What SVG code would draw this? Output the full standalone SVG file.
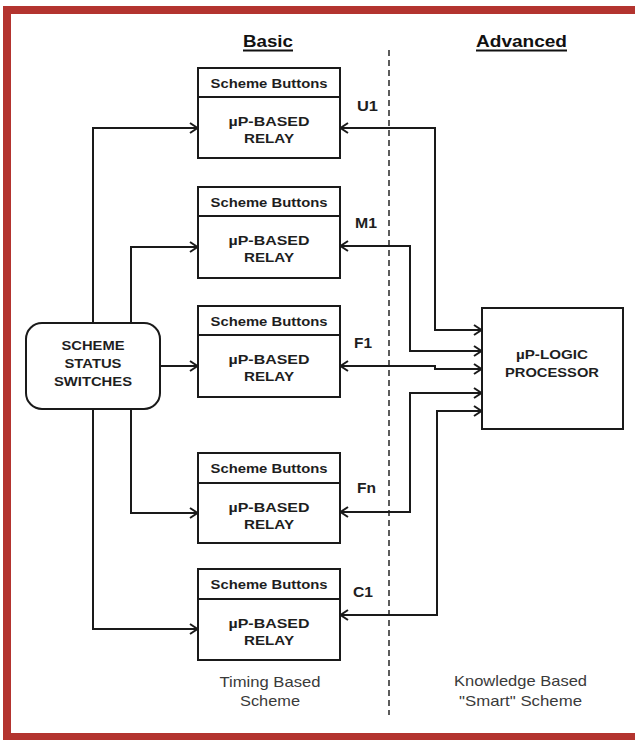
<svg xmlns="http://www.w3.org/2000/svg" width="635" height="740" viewBox="0 0 635 740">
<style>
.box{fill:#fff;stroke:#1a1a1a;stroke-width:2}
.ln{fill:none;stroke:#1a1a1a;stroke-width:2}
.b{font-family:"Liberation Sans",Arial,sans-serif;font-weight:bold;fill:#1e1e1e;font-size:13px}
.hd{font-family:"Liberation Sans",Arial,sans-serif;font-weight:bold;fill:#111;font-size:17px}
.lb{font-family:"Liberation Sans",Arial,sans-serif;font-weight:bold;fill:#1e1e1e;font-size:15px}
.n{font-family:"Liberation Sans",Arial,sans-serif;fill:#3a3a3a;font-size:15px}
</style>
<defs>
<marker id="ah" viewBox="-10 -7 12 14" refX="0" refY="0" markerWidth="12" markerHeight="14" markerUnits="userSpaceOnUse" orient="auto-start-reverse">
<path d="M-8,-5 L-0.5,0 L-8,5" fill="none" stroke="#1a1a1a" stroke-width="2"/>
</marker>
</defs>
<rect x="0" y="0" width="635" height="740" fill="#fff"/>
<rect id="frame" x="7" y="10" width="640" height="727" fill="none" stroke="#b3342f" stroke-width="8"/>

<g id="headings">
<text class="hd" x="243" y="47" textLength="50" lengthAdjust="spacingAndGlyphs">Basic</text>
<line x1="243" y1="50.5" x2="293" y2="50.5" stroke="#111" stroke-width="2"/>
<text class="hd" x="476" y="47" textLength="91" lengthAdjust="spacingAndGlyphs">Advanced</text>
<line x1="476" y1="50.5" x2="567" y2="50.5" stroke="#111" stroke-width="2"/>
</g>

<line id="divider" x1="389" y1="50" x2="389" y2="715" stroke="#333" stroke-width="1.6" stroke-dasharray="6,4"/>

<g id="connectors" class="ln">
<path d="M93,323 V128 H198" marker-end="url(#ah)"/>
<path d="M131,323 V247 H198" marker-end="url(#ah)"/>
<path d="M160,366 H198" marker-end="url(#ah)"/>
<path d="M131,409 V513 H198" marker-end="url(#ah)"/>
<path d="M93,409 V629 H198" marker-end="url(#ah)"/>
<path d="M340,128 H435 V330 H482" marker-start="url(#ah)" marker-end="url(#ah)"/>
<path d="M340,246 H410 V351 H482" marker-start="url(#ah)" marker-end="url(#ah)"/>
<path d="M340,366 H435 V369 H482" marker-start="url(#ah)" marker-end="url(#ah)"/>
<path d="M340,512 H410 V393 H482" marker-start="url(#ah)" marker-end="url(#ah)"/>
<path d="M340,615 H437 V411 H482" marker-start="url(#ah)" marker-end="url(#ah)"/>
</g>

<g id="switches">
<rect class="box" x="26" y="323" width="134" height="86" rx="16"/>
<text class="b" x="93" y="350" text-anchor="middle" font-size="13.5" textLength="63" lengthAdjust="spacingAndGlyphs">SCHEME</text>
<text class="b" x="93" y="368" text-anchor="middle" font-size="13.5" textLength="57" lengthAdjust="spacingAndGlyphs">STATUS</text>
<text class="b" x="93" y="386" text-anchor="middle" font-size="13.5" textLength="78" lengthAdjust="spacingAndGlyphs">SWITCHES</text>
</g>

<g id="relay-u1">
<rect class="box" x="198" y="68" width="142" height="90"/>
<line class="ln" x1="198" y1="97" x2="340" y2="97"/>
<text class="b" x="269" y="88" text-anchor="middle" textLength="117" lengthAdjust="spacingAndGlyphs">Scheme Buttons</text>
<text class="b" x="269" y="126" text-anchor="middle" textLength="81" lengthAdjust="spacingAndGlyphs">µP-BASED</text>
<text class="b" x="269" y="143" text-anchor="middle" textLength="50" lengthAdjust="spacingAndGlyphs">RELAY</text>
</g>
<g id="relay-m1">
<rect class="box" x="198" y="187" width="142" height="91"/>
<line class="ln" x1="198" y1="216" x2="340" y2="216"/>
<text class="b" x="269" y="207" text-anchor="middle" textLength="117" lengthAdjust="spacingAndGlyphs">Scheme Buttons</text>
<text class="b" x="269" y="245" text-anchor="middle" textLength="81" lengthAdjust="spacingAndGlyphs">µP-BASED</text>
<text class="b" x="269" y="262" text-anchor="middle" textLength="50" lengthAdjust="spacingAndGlyphs">RELAY</text>
</g>
<g id="relay-f1">
<rect class="box" x="198" y="306" width="142" height="91"/>
<line class="ln" x1="198" y1="335" x2="340" y2="335"/>
<text class="b" x="269" y="326" text-anchor="middle" textLength="117" lengthAdjust="spacingAndGlyphs">Scheme Buttons</text>
<text class="b" x="269" y="364" text-anchor="middle" textLength="81" lengthAdjust="spacingAndGlyphs">µP-BASED</text>
<text class="b" x="269" y="381" text-anchor="middle" textLength="50" lengthAdjust="spacingAndGlyphs">RELAY</text>
</g>
<g id="relay-fn">
<rect class="box" x="198" y="453" width="142" height="90"/>
<line class="ln" x1="198" y1="483" x2="340" y2="483"/>
<text class="b" x="269" y="473" text-anchor="middle" textLength="117" lengthAdjust="spacingAndGlyphs">Scheme Buttons</text>
<text class="b" x="269" y="512" text-anchor="middle" textLength="81" lengthAdjust="spacingAndGlyphs">µP-BASED</text>
<text class="b" x="269" y="529" text-anchor="middle" textLength="50" lengthAdjust="spacingAndGlyphs">RELAY</text>
</g>
<g id="relay-c1">
<rect class="box" x="198" y="569" width="142" height="91"/>
<line class="ln" x1="198" y1="599" x2="340" y2="599"/>
<text class="b" x="269" y="589" text-anchor="middle" textLength="117" lengthAdjust="spacingAndGlyphs">Scheme Buttons</text>
<text class="b" x="269" y="628" text-anchor="middle" textLength="81" lengthAdjust="spacingAndGlyphs">µP-BASED</text>
<text class="b" x="269" y="645" text-anchor="middle" textLength="50" lengthAdjust="spacingAndGlyphs">RELAY</text>
</g>

<g id="processor">
<rect class="box" x="482" y="308" width="141" height="121"/>
<text class="b" x="552" y="359" text-anchor="middle" textLength="72" lengthAdjust="spacingAndGlyphs">µP-LOGIC</text>
<text class="b" x="552" y="377" text-anchor="middle" textLength="94" lengthAdjust="spacingAndGlyphs">PROCESSOR</text>
</g>

<g id="labels">
<text class="lb" x="357" y="111" textLength="21" lengthAdjust="spacingAndGlyphs">U1</text>
<text class="lb" x="355" y="228" textLength="22" lengthAdjust="spacingAndGlyphs">M1</text>
<text class="lb" x="354" y="348" textLength="18" lengthAdjust="spacingAndGlyphs">F1</text>
<text class="lb" x="357" y="493" textLength="19" lengthAdjust="spacingAndGlyphs">Fn</text>
<text class="lb" x="353" y="597" textLength="20" lengthAdjust="spacingAndGlyphs">C1</text>
</g>

<g id="notes">
<text class="n" x="270" y="687" text-anchor="middle" textLength="101" lengthAdjust="spacingAndGlyphs">Timing Based</text>
<text class="n" x="270" y="706" text-anchor="middle" textLength="60" lengthAdjust="spacingAndGlyphs">Scheme</text>
<text class="n" x="520.5" y="686" text-anchor="middle" textLength="133" lengthAdjust="spacingAndGlyphs">Knowledge Based</text>
<text class="n" x="520.5" y="706" text-anchor="middle" textLength="123" lengthAdjust="spacingAndGlyphs">"Smart" Scheme</text>
</g>
</svg>
